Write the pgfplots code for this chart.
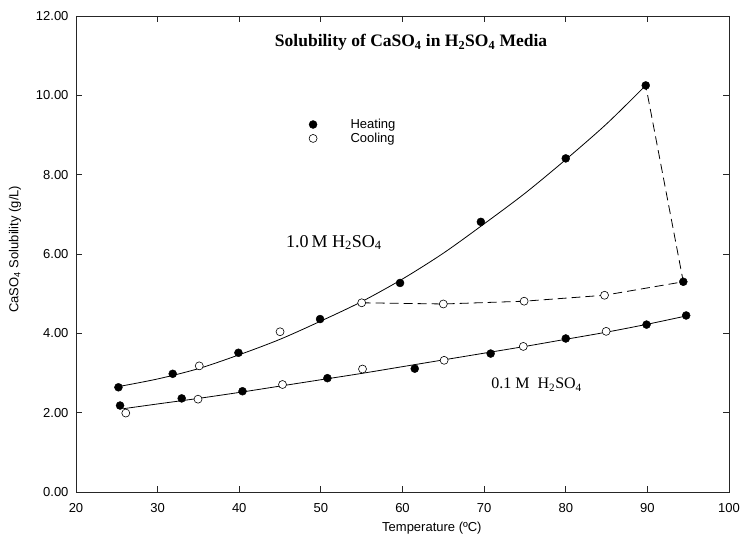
\documentclass[border=0pt]{standalone}
\usepackage{fontspec}
\setmainfont{Liberation Sans}
\newfontfamily\tms{Liberation Serif}
\usepackage{pgfplots}
\usepackage{pgfplotstable}
\pgfplotsset{compat=1.18}
\pgfplotsset{mylegimg/.style={legend image code/.code={\path[draw=none,fill=none] (0pt,-3pt) rectangle (46pt,3pt); \draw[##1,mark repeat=2,mark phase=2] plot coordinates {(0pt,0pt)(10pt,0pt)(46pt,0pt)};}}}

% 1.0 M H2SO4, heating (filled)
\pgfplotstableread{
T v
25.2 2.64
31.85 2.98
39.9 3.51
49.9 4.36
59.7 5.27
69.6 6.81
80.0 8.41
89.8 10.25
94.4 5.30
}\heatA
% 1.0 M H2SO4, cooling (open)
\pgfplotstableread{
T v
35.1 3.18
45.0 4.04
55.0 4.77
65.0 4.74
74.9 4.81
84.75 4.96
}\coolA
% 0.1 M H2SO4, heating
\pgfplotstableread{
T v
25.4 2.18
32.95 2.36
40.4 2.54
50.8 2.87
61.5 3.11
70.8 3.49
80.0 3.87
89.9 4.22
94.75 4.45
}\heatB
% 0.1 M H2SO4, cooling
\pgfplotstableread{
T v
26.1 1.99
34.95 2.34
45.3 2.71
55.1 3.10
65.1 3.32
74.8 3.67
84.95 4.05
}\coolB
% fitted curve 1.0 M
\pgfplotstableread{
T v
25 2.65
30 2.85
35 3.11
40 3.46
45 3.85
50 4.31
55 4.80
60 5.37
65 6.02
70 6.76
75 7.53
80 8.38
85 9.28
89.8 10.25
}\fitA
% fitted curve 0.1 M
\pgfplotstableread{
T v
25.8 2.10
30 2.22
35 2.36
40 2.51
45 2.67
50 2.83
55 2.99
60 3.16
65 3.33
70 3.50
75 3.67
80 3.85
85 4.03
90 4.23
94.8 4.44
}\fitB
% dashed path (cooling branch and return)
\pgfplotstableread{
T v
55.0 4.77
65.0 4.74
74.9 4.81
84.75 4.96
94.4 5.30
89.8 10.25
}\dashA

\begin{document}
\begin{tikzpicture}
\begin{axis}[
  scale only axis, width=653pt, height=476pt,
  xmin=20, xmax=100, ymin=0, ymax=12,
  xtick={20,30,...,100}, ytick={0,2,...,12},
  tick align=inside, major tick length=6pt,
  axis line style={line width=0.8pt, black!85},
  every tick/.style={black!85, line width=0.8pt},
  /pgf/number format/assume math mode=true,
  tick label style={font=\fontsize{13}{15}\selectfont},
  y tick label style={/pgf/number format/fixed, /pgf/number format/fixed zerofill, /pgf/number format/precision=2, xshift=-4pt},
  x tick label style={yshift=-8pt},
  xlabel={Temperature (ºC)},
  ylabel={CaSO\textsubscript{4} Solubility (g/L)},
  label style={font=\fontsize{13}{15}\selectfont},
  xlabel style={at={(axis description cs:0.545,-0.0756)}, anchor=center},
  ylabel style={at={(axis description cs:-0.0934,0.51)}, anchor=center},
  legend style={draw=none, fill=none, inner sep=0pt, outer sep=0pt,
    font=\fontsize{13}{15}\selectfont, row sep=0pt,
    at={(axis cs:47.82,9.44)}, anchor=north west,
    nodes={inner sep=1.5pt}},
  legend cell align=left,
]
\addplot[black, line width=0.8pt, smooth, forget plot] table {\fitA};
\addplot[black, line width=0.8pt, smooth, forget plot] table {\fitB};
\addplot[black, line width=0.8pt, dash pattern=on 9pt off 5pt, forget plot] table {\dashA};
\addplot[only marks, mark=*, mark size=4pt, mark options={fill=black, draw=black}, mylegimg] table {\heatA};
\addlegendentry{Heating}
\addplot[only marks, mark=*, mark size=4pt, mark options={fill=white, draw=black, line width=0.6pt}, mylegimg] table {\coolA};
\addlegendentry{Cooling}
\addplot[only marks, mark=*, mark size=4pt, mark options={fill=black, draw=black}, forget plot] table {\heatB};
\addplot[only marks, mark=*, mark size=4pt, mark options={fill=white, draw=black, line width=0.6pt}, forget plot] table {\coolB};
\node[font=\tms\bfseries\fontsize{17.5}{20}\selectfont] at (axis cs:61.05,11.33) {Solubility of CaSO\textsubscript{4} in H\textsubscript{2}SO\textsubscript{4} Media};
\node[font=\tms\fontsize{18}{21}\selectfont] at (axis cs:51.6,6.29) {1.0\,M H\textsubscript{2}SO\textsubscript{4}};
\node[font=\tms\fontsize{16}{19}\selectfont] at (axis cs:76.43,2.71) {0.1 M\ \ H\textsubscript{2}SO\textsubscript{4}};
\end{axis}
\pgfresetboundingbox
\path (-76pt,-41pt) rectangle (667pt,492pt);
\end{tikzpicture}
\end{document}
